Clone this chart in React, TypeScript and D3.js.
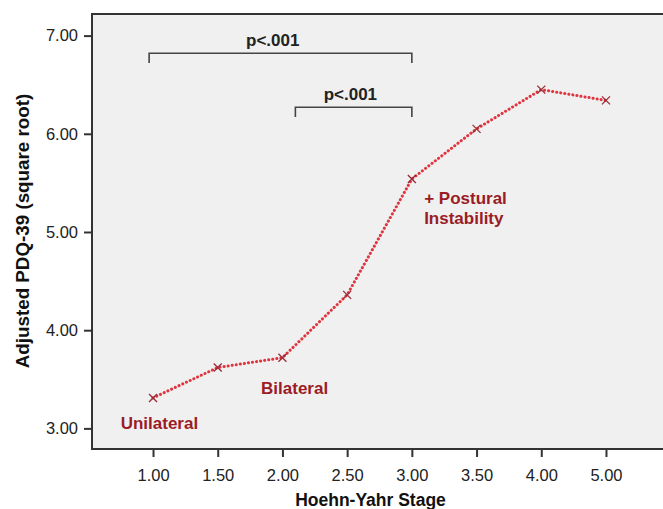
import { useEffect, useRef } from 'react';
import * as d3 from 'd3';

// Hoehn-Yahr stages and adjusted PDQ-39 (square root) means
const stages = ['1.00', '1.50', '2.00', '2.50', '3.00', '3.50', '4.00', '5.00'];
const pdqValues = [3.31, 3.62, 3.72, 4.36, 5.54, 6.05, 6.45, 6.34];
const yTicks = [3, 4, 5, 6, 7];

// significance brackets: start/end as stage index, bar height and drop in y units
const brackets = [
  { from: -0.06, to: 4, y: 6.82, drop: 0.1, label: 'p<.001', labelAt: 1.85 },
  { from: 2.2, to: 4, y: 6.27, drop: 0.1, label: 'p<.001', labelAt: 3.05 },
];

// stage annotations: anchor stage index and value
const annotations = [
  { lines: ['Unilateral'], at: -0.5, value: 2.99 },
  { lines: ['Bilateral'], at: -0.33 + 2, value: 3.35 },
  { lines: ['+ Postural', 'Instability'], at: 4.19, value: 5.29 },
];

const App = () => {
  const svgRef = useRef<SVGSVGElement>(null);
  const width = 663;
  const height = 509;

  useEffect(() => {
    const svg = d3.select(svgRef.current);
    svg.selectAll('*').remove();

    const left = 92;
    const right = 667;
    const top = 14;
    const bottom = 449;

    const x = d3.scalePoint().domain(stages).range([left, right]).padding(0.943);
    const step = x.step();
    const xi = (i: number) => (x(stages[0]) as number) + i * step;
    const y = d3.scaleLinear().domain([2.79, 7.22]).range([bottom, top]);

    // plot background
    svg
      .append('rect')
      .attr('x', left)
      .attr('y', top)
      .attr('width', right - left + 10)
      .attr('height', bottom - top)
      .attr('fill', '#f0f0f0');

    // frame
    svg
      .append('path')
      .attr('d', `M${width + 5},${top}H${left}V${bottom}H${width + 5}`)
      .attr('fill', 'none')
      .attr('stroke', '#333')
      .attr('stroke-width', 2);

    // Y axis
    const yAxis = svg
      .append('g')
      .attr('transform', `translate(${left - 1}, 0)`)
      .call(d3.axisLeft(y).tickValues(yTicks).tickSize(7).tickPadding(6).tickFormat(d3.format('.2f')));
    yAxis.select('.domain').remove();
    yAxis.selectAll('line').attr('stroke', '#333').attr('stroke-width', 2);
    yAxis
      .selectAll('text')
      .style('font-family', '"Liberation Sans", Arial, sans-serif')
      .style('font-size', '16.5px')
      .style('fill', '#222');

    // X axis
    const xAxis = svg
      .append('g')
      .attr('transform', `translate(0, ${bottom + 1})`)
      .call(d3.axisBottom(x).tickSize(7).tickPadding(12));
    xAxis.select('.domain').remove();
    xAxis.selectAll('line').attr('stroke', '#333').attr('stroke-width', 2);
    xAxis
      .selectAll('text')
      .style('font-family', '"Liberation Sans", Arial, sans-serif')
      .style('font-size', '16.5px')
      .style('fill', '#222');

    // axis titles
    svg
      .append('text')
      .attr('x', (left + right) / 2 - 9)
      .attr('y', 506)
      .attr('text-anchor', 'middle')
      .style('font-family', '"Liberation Sans", Arial, sans-serif')
      .style('font-weight', 'bold')
      .style('font-size', '17.5px')
      .style('fill', '#111')
      .text('Hoehn-Yahr Stage');

    svg
      .append('text')
      .attr('transform', `translate(29, 231) rotate(-90)`)
      .attr('text-anchor', 'middle')
      .style('font-family', '"Liberation Sans", Arial, sans-serif')
      .style('font-weight', 'bold')
      .style('font-size', '18.8px')
      .style('fill', '#111')
      .text('Adjusted PDQ-39 (square root)');

    // brackets
    brackets.forEach(b => {
      svg
        .append('path')
        .attr(
          'd',
          `M${xi(b.from)},${y(b.y - b.drop)}V${y(b.y)}H${xi(b.to)}V${y(b.y - b.drop)}`
        )
        .attr('fill', 'none')
        .attr('stroke', '#444')
        .attr('stroke-width', 1.6);
      svg
        .append('text')
        .attr('x', xi(b.labelAt))
        .attr('y', y(b.y) - 7)
        .attr('text-anchor', 'middle')
        .style('font-family', '"Liberation Sans", Arial, sans-serif')
        .style('font-weight', 'bold')
        .style('font-size', '17px')
        .style('fill', '#222')
        .text(b.label);
    });

    // dotted line
    const pts = stages.map((s, i) => ({ s, v: pdqValues[i] }));
    const line = d3
      .line<{ s: string; v: number }>()
      .x(d => x(d.s) as number)
      .y(d => y(d.v));

    svg
      .append('path')
      .datum(pts)
      .attr('d', line)
      .attr('fill', 'none')
      .attr('stroke', '#e0353f')
      .attr('stroke-width', 3)
      .attr('stroke-linecap', 'round')
      .attr('stroke-dasharray', '0.1,4');

    // x markers
    const r = 4;
    svg
      .selectAll('.mark')
      .data(pts)
      .enter()
      .append('path')
      .attr('class', 'mark')
      .attr('d', d => {
        const cx = x(d.s) as number;
        const cy = y(d.v);
        return `M${cx - r},${cy - r}L${cx + r},${cy + r}M${cx - r},${cy + r}L${cx + r},${cy - r}`;
      })
      .attr('stroke', '#9a2a35')
      .attr('stroke-width', 1.3);

    // stage annotations
    annotations.forEach(a => {
      const t = svg
        .append('text')
        .attr('x', xi(a.at))
        .attr('y', y(a.value))
        .style('font-family', '"Liberation Sans", Arial, sans-serif')
        .style('font-weight', 'bold')
        .style('font-size', '17px')
        .style('fill', '#9b1c26');
      a.lines.forEach((l, i) => {
        t.append('tspan')
          .attr('x', xi(a.at))
          .attr('dy', i === 0 ? 0 : 20)
          .text(l);
      });
    });
  }, []);

  return (
    <svg
      ref={svgRef}
      width={width}
      height={height}
      style={{ position: 'absolute', left: 0, top: 0, background: '#fff' }}
    />
  );
};

export default App;
